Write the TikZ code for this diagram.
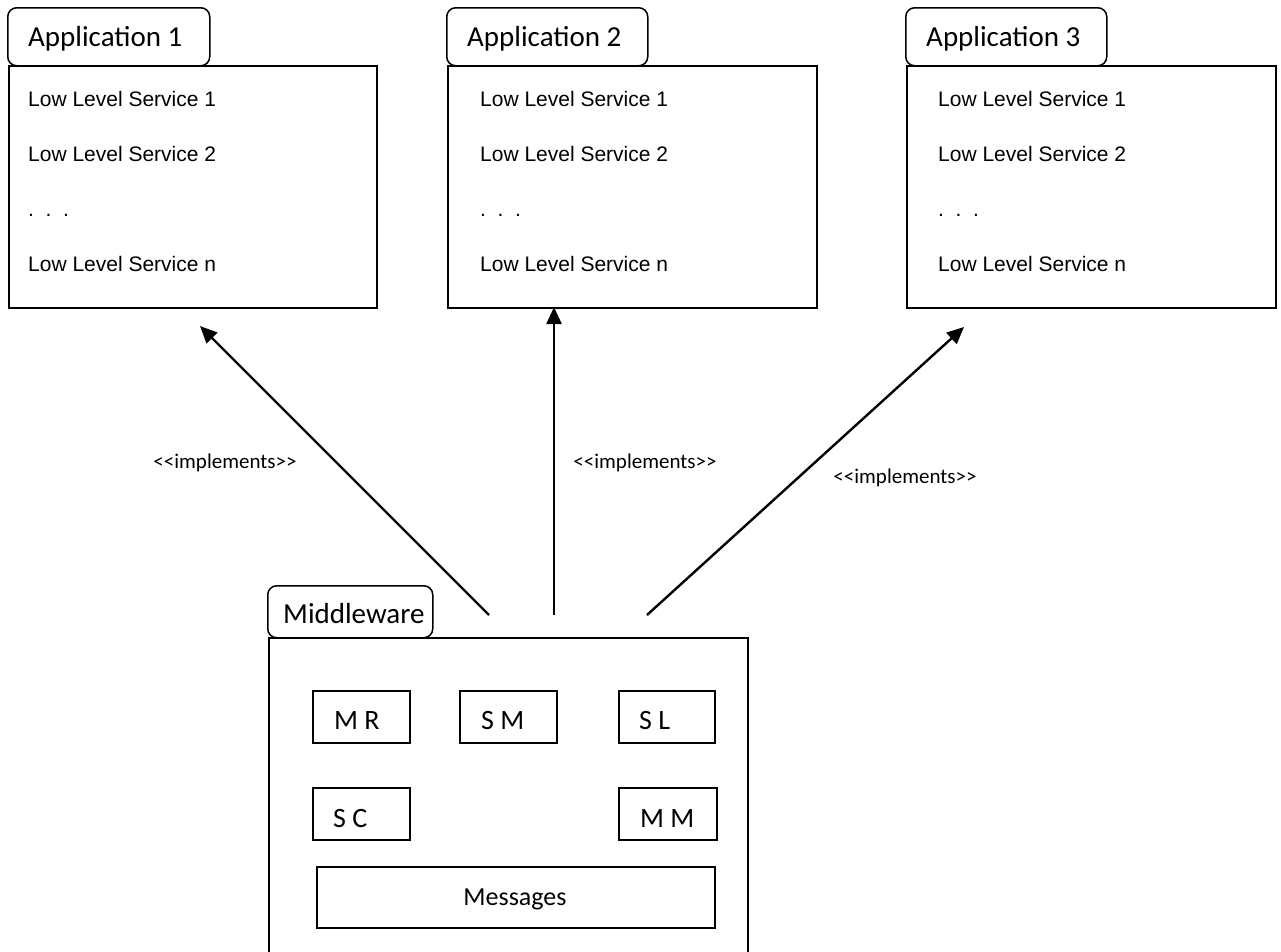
\documentclass[tikz,border=0pt]{standalone}
\usepackage{fontspec}
\setmainfont{Carlito}
\newfontfamily\arialfont{Liberation Sans}
\newfontfamily\stereofont{Carlito}[Ligatures=TeXOff]
\usetikzlibrary{arrows.meta}

\tikzset{
  frame/.style={draw, line width=1.5pt, anchor=north west, inner sep=0pt},
  tabbox/.style={draw, line width=1.5pt, rounded corners=9pt, anchor=north west, inner sep=0pt, fill=white},
  tabtext/.style={anchor=base west, inner sep=0pt, font=\fontsize{29}{34}\selectfont},
  svc/.style={anchor=base west, inner sep=0pt, font=\arialfont\fontsize{21}{25}\selectfont},
  comp/.style={draw, line width=1.5pt, anchor=north west, inner sep=0pt},
  comptext/.style={anchor=base west, inner sep=0pt, font=\fontsize{28}{33}\selectfont},
  impl/.style={inner sep=0pt, font=\stereofont\fontsize{21}{25}\selectfont},
  realize/.style={line width=2.4pt, -{Triangle[length=17pt,width=15pt]}},
}

\begin{document}
\begin{tikzpicture}[x=1pt, y=-1pt]
\clip (0,0) rectangle (1281,951);
\fill[white] (0,0) rectangle (1281,951);

% application packages
\foreach \n/\xl/\xr/\tx/\tr in {1/8/376/28/210, 2/447/816/480/648, 3/906/1275/938/1107}{
  \node[frame, minimum width={(\xr-\xl)*1pt}, minimum height=242pt] (app\n) at (\xl,65) {};
  \node[tabbox, minimum width={(\tr-\xl)*1pt}, minimum height=58pt] (tab\n) at (\xl-1,7) {};
  \node[tabtext] (title\n) at (\xl+20,46) {Application \n};
  \node[svc] (s\n a) at (\tx,106) {Low Level Service 1};
  \node[svc] (s\n b) at (\tx,161) {Low Level Service 2};
  \node[svc] (s\n c) at (\tx,216) {.\ \ .\ \ .};
  \node[svc] (s\n d) at (\tx,271) {Low Level Service n};
}

% middleware package
\node[frame, minimum width=479pt, minimum height=340pt] (mw) at (268,637) {};
\node[tabbox, minimum width=165pt, minimum height=52pt] (mwtab) at (267,585) {};
\node[tabtext] (mwtitle) at (283,623) {Middleware};

\node[comp, minimum width=97pt, minimum height=52pt] (mr) at (312,690) {};
\node[comptext] at (334,729) {M R};
\node[comp, minimum width=97pt, minimum height=52pt] (sm) at (459,690) {};
\node[comptext] at (481,729) {S M};
\node[comp, minimum width=96pt, minimum height=52pt] (sl) at (618,690) {};
\node[comptext] at (639,729) {S L};
\node[comp, minimum width=97pt, minimum height=52pt] (sc) at (312,787) {};
\node[comptext] at (333,827) {S C};
\node[comp, minimum width=98pt, minimum height=52pt] (mm) at (618,787) {};
\node[comptext] at (640,827) {M M};
\node[comp, minimum width=398pt, minimum height=61pt] (msg) at (316,866) {};
\node[anchor=base, inner sep=0pt, font=\fontsize{26}{31}\selectfont] at (515,905) {Messages};

% realization arrows
\coordinate (src1) at (489,615);
\coordinate (src2) at (554,615);
\coordinate (src3) at (647,615);
\coordinate (dst1) at (200,326);
\coordinate (dst2) at (554,307);
\coordinate (dst3) at (964,327);
\draw[realize] (src1) -- (dst1);
\draw[realize] (src2) -- (dst2);
\draw[realize] (src3) -- (dst3);

\node[impl] (l1) at (225,463) {<<implements>>};
\node[impl] (l2) at (645,463) {<<implements>>};
\node[impl] (l3) at (905,478) {<<implements>>};
\end{tikzpicture}
\end{document}
